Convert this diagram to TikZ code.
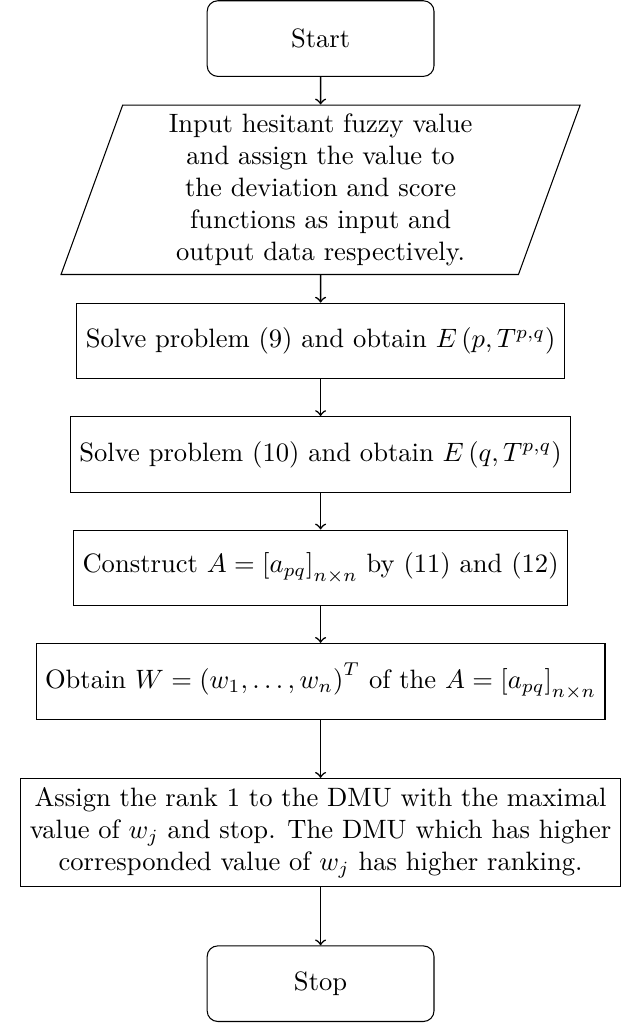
\documentclass[tikz,border=0pt]{standalone}
\usepackage{amsmath}
\usetikzlibrary{shapes.geometric}

\tikzset{
  startstop/.style={rectangle, rounded corners, draw, minimum width=3cm, minimum height=1cm, align=center},
  inout/.style={trapezium, trapezium left angle=70, trapezium right angle=110, draw, text width=5cm, align=center},
  process/.style={rectangle, draw, minimum height=1cm, align=center},
  flow/.style={->, semithick}
}

\begin{document}
\begin{tikzpicture}
  \useasboundingbox (-4.24, -13.02) rectangle (4.05, 0.51);

  \node[startstop] (start) at (0, 0) {Start};
  \node[inout] (input) at (0, -2) {Input hesitant fuzzy value\\ and assign the value to\\ the deviation and score\\ functions as input and\\ output data respectively.};
  \node[process] (solvep) at (0, -4) {Solve problem (9) and obtain $E\left(p,T^{p,q}\right)$};
  \node[process] (solveq) at (0, -5.5) {Solve problem (10) and obtain $E\left(q,T^{p,q}\right)$};
  \node[process] (constr) at (0, -7) {Construct $A=\left[a_{pq}\right]_{n\times n}$ by (11) and (12)};
  \node[process] (weight) at (0, -8.5) {Obtain $W=\left(w_1,\ldots,w_n\right)^T$ of the $A=\left[a_{pq}\right]_{n\times n}$};
  \node[process] (rank) at (0, -10.5) {Assign the rank 1 to the DMU with the maximal\\ value of $w_j$ and stop. The DMU which has higher\\ corresponded value of $w_j$ has higher ranking.};
  \node[startstop] (stop) at (0, -12.5) {Stop};

  \draw[flow] (start) -- (input);
  \draw[flow] (input) -- (solvep);
  \draw[flow] (solvep) -- (solveq);
  \draw[flow] (solveq) -- (constr);
  \draw[flow] (constr) -- (weight);
  \draw[flow] (weight) -- (rank);
  \draw[flow] (rank) -- (stop);
\end{tikzpicture}
\end{document}
